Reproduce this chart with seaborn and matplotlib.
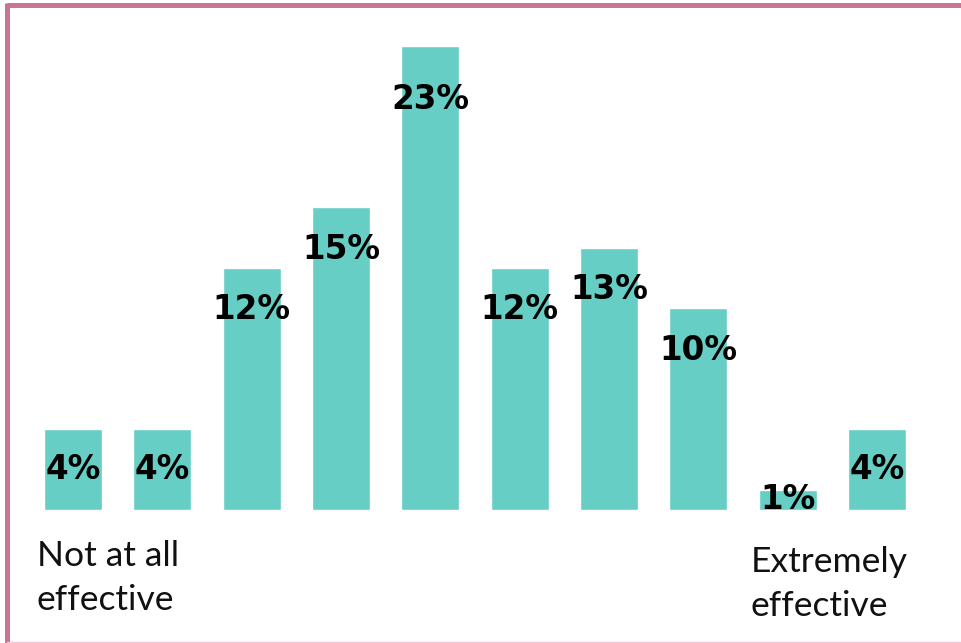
import matplotlib
matplotlib.use("Agg")
import matplotlib.pyplot as plt
from matplotlib.lines import Line2D
import seaborn as sns
import pandas as pd

# Ratings on a 10-point scale, share of respondents
ratings = ["1", "2", "3", "4", "5", "6", "7", "8", "9", "10"]
shares = [4, 4, 12, 15, 23, 12, 13, 10, 1, 4]
low_label = "Not at all\neffective"
high_label = "Extremely\neffective"

df = pd.DataFrame({"rating": ratings, "share": shares})

sns.set_theme(style="white")
plt.rcParams["font.family"] = ["DejaVu Sans"]

W, H, DPI = 961, 643, 100
fig = plt.figure(figsize=(W / DPI, H / DPI), dpi=DPI)
ax = fig.add_axes([0, 0, 1, 1])

bar_color = "#66CEC4"
sns.barplot(data=df, x="rating", y="share", color=bar_color, width=0.65,
            saturation=1, ax=ax)

# Scale: bar pitch ~89.3 px, ~20.2 px per percentage point, baseline 133 px up
pitch = 89.33
ppu = 20.17
x0 = -73 / pitch
ax.set_xlim(x0, x0 + W / pitch)
y0 = -133 / ppu
ax.set_ylim(y0, y0 + H / ppu)
ax.axis("off")

# Value labels: centred on short bars, otherwise just below the bar top
for i, v in enumerate(shares):
    drop_px = 53 if v >= 20 else 42
    y = v / 2 if v < 5 else v - drop_px / ppu
    ax.text(i, y, f"{v}%", ha="center", va="center", fontsize=23.5,
            fontweight="bold", color="black")

# End-of-scale captions
cap_font = dict(family=["Lato", "DejaVu Sans"], fontsize=25.5, color="#111111",
                linespacing=1.45, va="top", ha="left")
fig.text(37 / W, 1 - 540 / H, low_label, **cap_font)
fig.text(751 / W, 1 - 546 / H, high_label, **cap_font)

# Slide frame
frame = "#C87494"
fig.add_artist(Line2D([7 / W, 1], [1 - 5 / H, 1 - 5 / H], color=frame,
                      lw=3.6, solid_capstyle="butt", transform=fig.transFigure))
fig.add_artist(Line2D([7 / W, 7 / W], [0, 1 - 3 / H], color=frame,
                      lw=3.6, solid_capstyle="butt", transform=fig.transFigure))
fig.add_artist(Line2D([7 / W, 1], [1.5 / H, 1.5 / H], color="#F0C8D8",
                      lw=1.0, transform=fig.transFigure))

fig.savefig("out.png", dpi=DPI, facecolor="white")
